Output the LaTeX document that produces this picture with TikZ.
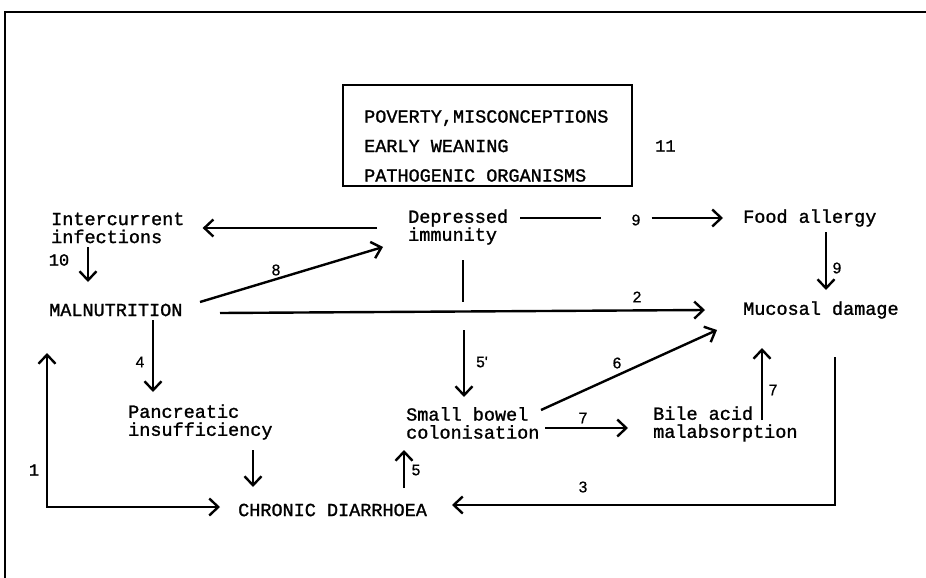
\documentclass[tikz,border=0pt]{standalone}
\usepackage{fontspec}
\setmainfont{Liberation Mono}[FakeBold=1.3]
\newfontfamily\numfont{Liberation Sans}[FakeBold=0.8]
\newfontfamily\twnum{Liberation Mono}[FakeBold=1.3]
\usetikzlibrary{arrows.meta,calc}
\begin{document}
\begin{tikzpicture}[x=1pt,y=-1pt,
  line width=2.4pt,
  >={Straight Barb[length=9pt,width=17pt]},
  txt/.style={anchor=west,inner sep=0pt,align=left,font=\fontsize{18.5}{18}\selectfont},
  num/.style={inner sep=0pt,font=\numfont\fontsize{15.5}{15.5}\selectfont},
  tnum/.style={inner sep=0pt,font=\twnum\fontsize{17}{17}\selectfont},
  conn/.style={->},
  link/.style={-}]
\useasboundingbox (0,0) rectangle (926,578);
% frame
\draw[line width=2pt] (5,578) -- (5,12) -- (926,12);
% cause box
\node[draw,line width=2pt,minimum width=289pt,minimum height=101pt,inner sep=0pt] (box) at (487.5,135.5) {};
\node[txt,font=\fontsize{18.5}{29.5}\selectfont] (causes) at (363,146) {POVERTY,MISCONCEPTIONS\\EARLY WEANING\\PATHOGENIC ORGANISMS};
\node[tnum,anchor=west] (n11) at (654,146) {11};
% main nodes
\node[txt] (inter) at (50,228) {Intercurrent\\infections};
\node[txt] (dep) at (407,227) {Depressed\\immunity};
\node[txt] (food) at (742,218) {Food allergy};
\node[txt] (mal) at (48,310) {MALNUTRITION};
\node[txt] (muc) at (742,310) {Mucosal damage};
\node[txt] (pan) at (127,422) {Pancreatic\\insufficiency};
\node[txt] (sbc) at (405,423) {Small bowel\\colonisation};
\node[txt] (bile) at (652,424) {Bile acid\\malabsorption};
\node[txt] (cd) at (237,510) {CHRONIC DIARRHOEA};
% number labels
\node[num] (n9a) at (636,220) {9};
\node[num] (n9b) at (837,268) {9};
\node[tnum] (n10) at (59,260) {10};
\node[num] (n8) at (276,270) {8};
\node[num] (n2) at (637,297) {2};
\node[num] (n4) at (140,362) {4};
\node[num] (n5p) at (482,362) {5'};
\node[num] (n6) at (617,363) {6};
\node[num] (n7a) at (583,418) {7};
\node[num] (n7b) at (773,390) {7};
\node[tnum] (n1) at (34,470) {1};
\node[num] (n5) at (416,470) {5};
\node[num] (n3) at (583,487) {3};
% connectors
\draw[conn] ($(dep.west)+(-30,1)$) -- ($(inter.east)+(17,0)$);
\draw[link] ($(dep.west)+(113,-9)$) -- ($(n9a.west)+(-29,-2)$);
\draw[conn] ($(n9a.east)+(10,-2)$) -- ($(food.west)+(-19,0)$);
\draw[conn] ($(food.west)+(84,14)$) -- ($(muc.west)+(84,-20)$);
\draw[conn] ($(inter.west)+(38,19)$) -- ($(mal.west)+(40,-28)$);
\draw[conn] ($(mal.west)+(152,-8)$) -- ($(dep.west)+(-24,20)$);
\draw[link] ($(dep.west)+(56,33)$) -- ($(dep.west)+(56,75)$);
\draw[conn] ($(sbc.west)+(59,-93)$) -- ($(sbc.west)+(59,-26)$);
\draw[conn] ($(mal.west)+(172,3)$) -- ($(muc.west)+(-37,0)$);
\draw[conn] ($(mal.west)+(105,10)$) -- ($(pan.west)+(26,-30)$);
\draw[conn] ($(pan.west)+(126,28)$) -- ($(cd.west)+(16,-23)$);
\draw[<->] ($(cd.west)+(-17,-3)$) -| ($(mal.west)+(-1,43)$);
\draw[conn] ($(cd.west)+(167,-22)$) -- ($(sbc.west)+(-1,27)$);
\draw[conn] ($(sbc.west)+(136,-13)$) -- ($(muc.west)+(-25,20)$);
\draw[conn] ($(sbc.west)+(140,5)$) -- ($(bile.west)+(-24,4)$);
\draw[conn] ($(bile.west)+(110,-4)$) -- ($(muc.west)+(20,38)$);
\draw[conn] ($(muc.west)+(93,47)$) |- ($(cd.west)+(215,-5)$);
\end{tikzpicture}
\end{document}
